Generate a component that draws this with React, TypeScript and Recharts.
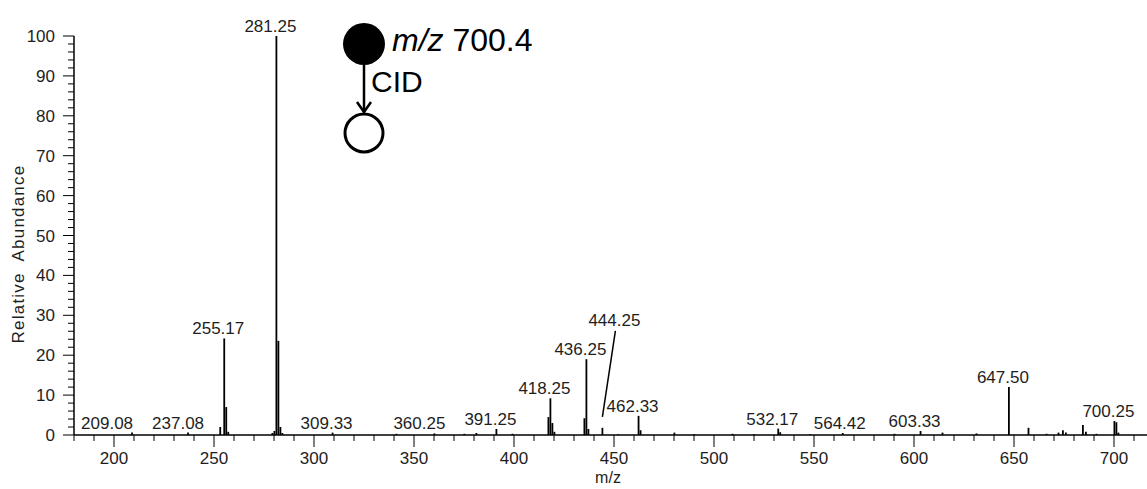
import React from "react";
import { BarChart, Bar, XAxis, YAxis, LabelList } from "recharts";

// MS/MS spectrum of the m/z 700.4 precursor (CID)
const peakMz = [
  209.08, 237.08, 253.17, 255.17, 256.17, 257.17, 279.25, 280.25, 281.25,
  282.25, 283.25, 284.25, 309.33, 341.25, 360.25, 375.25, 381.25, 391.25,
  399.3, 417.25, 418.25, 419.25, 420.25, 435.25, 436.25, 437.25, 444.25,
  452.2, 462.33, 463.33, 480.25, 490.2, 509.3, 520.2, 532.17, 533.17, 548.2,
  564.42, 590.3, 603.33, 614.3, 631.3, 647.5, 657.3, 666.3, 672.3, 674.5,
  676.0, 684.5, 686.0, 691.3, 700.25, 701.25, 702.25,
];

const peakAbundance = [
  0.6, 0.6, 2.0, 24.2, 7.0, 0.8, 0.5, 1.0, 100, 23.6, 2.0, 0.5, 0.6, 0.3, 0.4,
  0.3, 0.5, 1.5, 0.3, 4.5, 9.2, 3.0, 0.8, 4.2, 19.0, 1.5, 1.8, 0.2, 4.8, 1.2,
  0.6, 0.2, 0.3, 0.2, 1.6, 0.7, 0.2, 0.5, 0.3, 1.0, 0.6, 0.4, 12.0, 1.8, 0.3,
  0.6, 1.2, 0.6, 2.5, 0.8, 0.3, 3.5, 3.2, 0.6,
];

const labelledPeaks = [
  "209.08", "237.08", "255.17", "281.25", "309.33", "360.25", "391.25",
  "418.25", "436.25", "444.25", "462.33", "532.17", "564.42", "603.33",
  "647.50", "700.25",
];

const xMajorTicks = [200, 250, 300, 350, 400, 450, 500, 550, 600, 650, 700];
const yMajorTicks = [0, 10, 20, 30, 40, 50, 60, 70, 80, 90, 100];

const FONT = "'Liberation Sans', Arial, sans-serif";
const TEXT = "#1e1e1e";

const step = (from: number, to: number, by: number) => {
  const out: number[] = [];
  for (let v = from; v <= to; v += by) out.push(v);
  return out;
};

const xTicks = step(180, 710, 10);
const yTicks = step(0, 100, 2);

const spectrum = peakMz.map((mz, i) => ({
  mz,
  abundance: peakAbundance[i],
  label: labelledPeaks.find((l) => Number(l) === mz),
}));

// horizontal nudge of a few labels that sit crowded near the baseline
const labelNudge: Record<string, number> = {
  "209.08": -25,
  "237.08": -10,
  "360.25": -15,
  "564.42": -3,
};

const MzTick = (props: any) => {
  const { x, y, payload } = props;
  const major = xMajorTicks.includes(payload.value);
  return (
    <g>
      <line x1={x} y1={y} x2={x} y2={y + (major ? 12 : 6)} stroke="#000" strokeWidth={1} />
      {major && (
        <text x={x} y={y + 29} textAnchor="middle" fontSize={17} fontFamily={FONT} fill={TEXT}>
          {payload.value}
        </text>
      )}
    </g>
  );
};

const AbundanceTick = (props: any) => {
  const { x, y, payload } = props;
  const major = yMajorTicks.includes(payload.value);
  return (
    <g>
      <line x1={x - (major ? 11 : 6)} y1={y} x2={x} y2={y} stroke="#000" strokeWidth={1} />
      {major && (
        <text x={x - 19} y={y + 6} textAnchor="end" fontSize={17} fontFamily={FONT} fill={TEXT}>
          {payload.value}
        </text>
      )}
    </g>
  );
};

const PeakLabel = (props: any) => {
  const { x, y, width, value } = props;
  if (!value) return null;
  const cx = x + width / 2;
  if (value === "444.25") {
    return (
      <g>
        <text x={cx + 12} y={y - 102} textAnchor="middle" fontSize={17} fontFamily={FONT} fill={TEXT}>
          {value}
        </text>
        <line x1={cx + 13} y1={y - 97} x2={cx} y2={y - 11} stroke="#000" strokeWidth={1.5} />
      </g>
    );
  }
  const dx = labelNudge[value] ?? -6;
  return (
    <text x={cx + dx} y={y - 4} textAnchor="middle" fontSize={17} fontFamily={FONT} fill={TEXT}>
      {value}
    </text>
  );
};

export default function App() {
  return (
    <div style={{ position: "absolute", left: 0, top: 0, width: 1147, height: 489, background: "#fff" }}>
      <BarChart
        width={1147}
        height={489}
        data={spectrum}
        margin={{ top: 36, right: 0, bottom: 0, left: 0 }}
      >
        <XAxis
          dataKey="mz"
          type="number"
          domain={[180, 716.5]}
          allowDataOverflow
          ticks={xTicks}
          interval={0}
          tickSize={0}
          tickMargin={0}
          tick={<MzTick />}
          height={54}
          axisLine={{ stroke: "#000", strokeWidth: 1.5 }}
        />
        <YAxis
          type="number"
          domain={[0, 100]}
          ticks={yTicks}
          interval={0}
          tickSize={0}
          tickMargin={0}
          tick={<AbundanceTick />}
          width={74}
          axisLine={{ stroke: "#000", strokeWidth: 1.5 }}
        />
        <Bar dataKey="abundance" fill="#000" barSize={2} isAnimationActive={false}>
          <LabelList dataKey="label" content={<PeakLabel />} />
        </Bar>
      </BarChart>
      <svg
        width={1147}
        height={489}
        style={{ position: "absolute", left: 0, top: 0, pointerEvents: "none" }}
      >
        <text
          transform="translate(24 254) rotate(-90)"
          textAnchor="middle"
          fontSize={17}
          letterSpacing={1.2}
          fontFamily={FONT}
          fill={TEXT}
          xmlSpace="preserve"
        >
          Relative  Abundance
        </text>
        <text x={608} y={483} textAnchor="middle" fontSize={16} fontFamily={FONT} fill={TEXT}>
          m/z
        </text>
        {/* precursor -> CID -> product scheme */}
        <circle cx={364} cy={44} r={21} fill="#000" />
        <line x1={364} y1={65} x2={364} y2={112} stroke="#000" strokeWidth={2.5} />
        <polyline points="357,102 364,112 371,102" fill="none" stroke="#000" strokeWidth={2.5} />
        <circle cx={364} cy={133} r={19} fill="#fff" stroke="#000" strokeWidth={3} />
        <text x={392} y={51} fontSize={32} fontFamily={FONT} fill="#000">
          <tspan fontStyle="italic">m/z</tspan> 700.4
        </text>
        <text x={371} y={92} fontSize={30} fontFamily={FONT} fill="#000">
          CID
        </text>
      </svg>
    </div>
  );
}
